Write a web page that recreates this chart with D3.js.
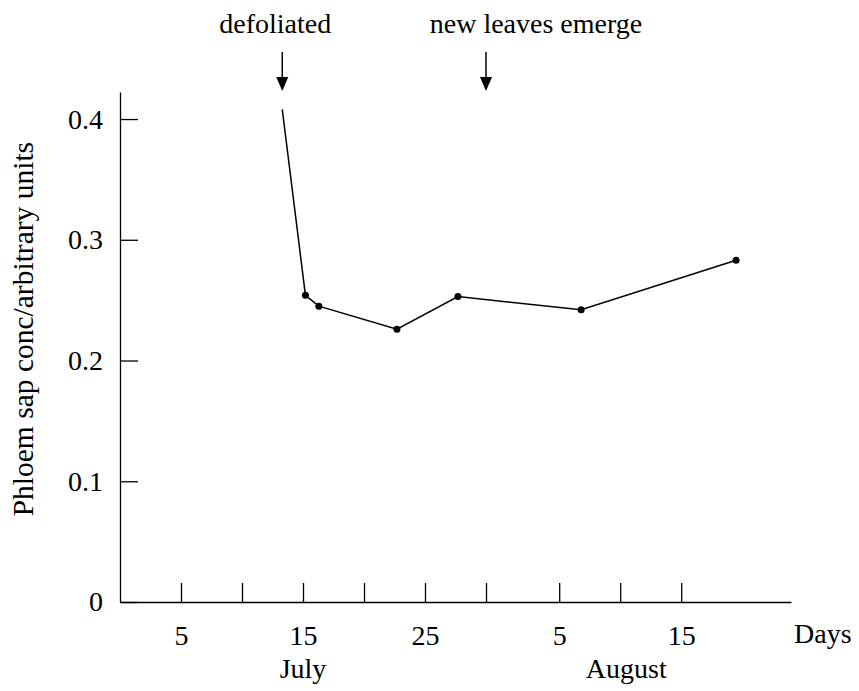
<!DOCTYPE html>
<html>
<head>
<meta charset="utf-8">
<script src="https://cdn.jsdelivr.net/npm/d3@7"></script>
<style>
  html, body { margin: 0; padding: 0; background: #fff; }
  svg { display: block; }
  text { font-family: "Liberation Serif", "Times New Roman", serif; fill: #000; }
</style>
</head>
<body>
<svg id="chart" width="859" height="691"></svg>
<script>
// ---- data ----
// days counted from 30 June (July d = d, August d = 31 + d)
const days   = [13.3, 15.2, 16.3, 22.7, 27.7, 37.8, 50.5];
const values = [0.408, 0.254, 0.245, 0.226, 0.253, 0.242, 0.283];
const hasMarker = [false, true, true, true, true, true, true];

const xTickDays   = [5, 10, 15, 20, 25, 30, 36, 41, 46];
const xTickLabels = ["5", "", "15", "", "25", "", "5", "", "15"];
const yTicks      = [0, 0.1, 0.2, 0.3, 0.4];
const months      = ["July", "August"];
const monthDays   = [15, 41.5];
const events      = ["defoliated", "new leaves emerge"];
const eventDays   = [13.3, 30];

// ---- layout ----
const svg = d3.select("#chart");
const x = d3.scaleLinear().domain([0, 55]).range([120, 791]);
const y = d3.scaleLinear().domain([0, 0.4224]).range([602, 92]);
const FS = 28;

// x axis
const xAxis = d3.axisBottom(x)
  .tickValues(xTickDays)
  .tickFormat((d, i) => xTickLabels[i])
  .tickSizeInner(-19)
  .tickSizeOuter(0)
  .tickPadding(23);
const gx = svg.append("g").attr("transform", `translate(0,${y(0)})`).call(xAxis);
gx.selectAll("text").attr("font-size", FS).attr("font-family", "Liberation Serif").attr("fill", "#000");
gx.selectAll("line, path").attr("stroke", "#000").attr("stroke-width", 1.3);

// y axis
const yAxis = d3.axisLeft(y)
  .tickValues(yTicks)
  .tickFormat(d => d === 0 ? "0" : d3.format(".1f")(d))
  .tickSizeInner(-18)
  .tickSizeOuter(0)
  .tickPadding(17);
const gy = svg.append("g").attr("transform", `translate(${x(0)},0)`).call(yAxis);
gy.selectAll("text").attr("font-size", FS).attr("font-family", "Liberation Serif").attr("fill", "#000");
gy.selectAll("line, path").attr("stroke", "#000").attr("stroke-width", 1.3);

// y title
svg.append("text")
  .attr("transform", `translate(33,${y(0.226)}) rotate(-90)`)
  .attr("text-anchor", "middle")
  .attr("font-size", 29.5)
  .text("Phloem sap conc/arbitrary units");

// x unit label
svg.append("text")
  .attr("x", x(55) + 3).attr("y", y(0) + 41)
  .attr("font-size", FS)
  .text("Days");

// month labels
svg.selectAll("text.month").data(months).enter().append("text")
  .attr("class", "month")
  .attr("x", (d, i) => x(monthDays[i]))
  .attr("y", y(0) + 76)
  .attr("text-anchor", "middle")
  .attr("font-size", FS)
  .text(d => d);

// event annotations
const textShift = [-7, 50];
events.forEach((ev, i) => {
  const ex = x(eventDays[i]);
  svg.append("text")
    .attr("x", ex + textShift[i]).attr("y", 33)
    .attr("text-anchor", "middle")
    .attr("font-size", FS)
    .text(ev);
  svg.append("line")
    .attr("x1", ex).attr("x2", ex)
    .attr("y1", 52).attr("y2", 80)
    .attr("stroke", "#000").attr("stroke-width", 1.5);
  svg.append("path")
    .attr("d", d3.line()([[ex - 6, 77], [ex + 6, 77], [ex, 91]]) + "Z")
    .attr("fill", "#000");
});

// data line
const pts = days.map((d, i) => [d, values[i]]);
svg.append("path")
  .datum(pts)
  .attr("d", d3.line().x(d => x(d[0])).y(d => y(d[1])))
  .attr("fill", "none")
  .attr("stroke", "#000")
  .attr("stroke-width", 1.5);

svg.selectAll("circle.pt").data(pts.filter((d, i) => hasMarker[i])).enter().append("circle")
  .attr("class", "pt")
  .attr("cx", d => x(d[0]))
  .attr("cy", d => y(d[1]))
  .attr("r", 3.5)
  .attr("fill", "#000");
</script>
</body>
</html>
